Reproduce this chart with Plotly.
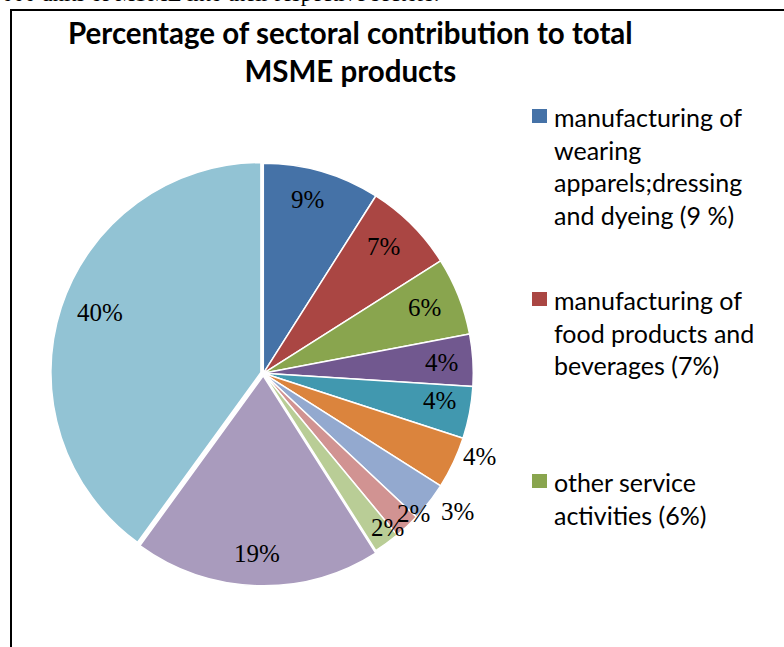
import math
import plotly.graph_objects as go

# ---------------- data ----------------
sectors = [
    "manufacturing of wearing apparels;dressing and dyeing (9 %)",
    "manufacturing of food products and beverages (7%)",
    "other service activities (6%)",
    "sector 4", "sector 5", "sector 6", "sector 7",
    "sector 8", "sector 9", "sector 10", "sector 11",
]
shares = [9, 7, 6, 4, 4, 4, 3, 2, 2, 19, 40]
slice_colors = ["#4572A7", "#AA4643", "#89A54E", "#71588F", "#4198AF", "#DB843D",
                "#93A9CF", "#D19392", "#B9CD96", "#A99BBD", "#92C3D4"]
legend_labels = [
    "manufacturing of<br>wearing<br>apparels;dressing<br>and dyeing (9 %)",
    "manufacturing of<br>food products and<br>beverages (7%)",
    "other service<br>activities (6%)",
]
title_text = "Percentage of sectoral contribution to total<br>MSME products"
page_text = "000 units of MSME into their respective sectors."

# ---------------- style ----------------
pulls = [0, 0, 0, 0, 0, 0, 0, 0, 0, 0.012, 0.012]
# label placement (fraction of radius, angular nudge in degrees)
label_radius = [0.856, 0.83, 0.832, 0.85, 0.848, 1.103, 1.136, 0.981, 0.943, 0.861, 0.829]
label_nudge = [-2.0, -1.6, -0.7, 0.0, -2.0, -4.2, -2.3, -3.8, -2.9, 0.2, 2.3]

W, H = 784, 647
CX, CY, R = 263.3, 373.3, 210.0
half = R * (1 + max(pulls))

fig = go.Figure(go.Pie(
    labels=sectors, values=shares, sort=False, direction="clockwise", rotation=0,
    pull=pulls, textinfo="none", showlegend=False, hoverinfo="label+percent",
    marker=dict(colors=slice_colors, line=dict(color="white", width=1.5)),
    domain=dict(x=[(CX - half) / W, (CX + half) / W],
                y=[1 - (CY + half) / H, 1 - (CY - half) / H]),
))

annotations = []
total = sum(shares)
cum = 0
for v, rf, nd in zip(shares, label_radius, label_nudge):
    mid = (cum + v / 2) / total * 2 * math.pi + math.radians(nd)
    cum += v
    px = CX + rf * R * math.sin(mid)
    py = CY - rf * R * math.cos(mid)
    annotations.append(dict(
        x=px / W, y=1 - py / H, xref="paper", yref="paper",
        text=f"{v}%", showarrow=False, xanchor="center", yanchor="middle",
        font=dict(family="Liberation Serif", size=25, color="black"),
    ))

# title
annotations.append(dict(
    x=350 / W, y=1 - 12.5 / H, xref="paper", yref="paper", text=f"<b>{title_text}</b>",
    showarrow=False, xanchor="center", yanchor="top",
    font=dict(family="Lato", size=29.5, color="black"),
))

# cut-off page text above the chart box
annotations.append(dict(
    x=0, y=1 + 6 / H, xref="paper", yref="paper", text=page_text,
    showarrow=False, xanchor="left", yanchor="middle",
    font=dict(family="Liberation Serif", size=22.5, color="black"),
))

# manual legend (first three entries visible)
shapes = []
entry_top = [100, 283, 465]
for i, lab in enumerate(legend_labels):
    t = entry_top[i]
    shapes.append(dict(type="rect", xref="paper", yref="paper",
                       x0=532 / W, x1=547 / W, y0=1 - (t + 9) / H, y1=1 - (t + 23) / H,
                       fillcolor=slice_colors[i], line=dict(width=0)))
    annotations.append(dict(
        x=552 / W, y=1 - t / H, xref="paper", yref="paper", text=lab,
        showarrow=False, xanchor="left", yanchor="top", align="left",
        font=dict(family="Lato", size=25, color="black"),
    ))

# chart border box
shapes.append(dict(type="rect", xref="paper", yref="paper",
                   x0=11 / W, x1=1.05, y0=-0.05, y1=1 - 10 / H,
                   line=dict(color="black", width=2), fillcolor="rgba(0,0,0,0)"))

fig.update_layout(
    width=W, height=H, margin=dict(l=0, r=0, t=0, b=0, pad=0),
    paper_bgcolor="white", plot_bgcolor="white",
    annotations=annotations, shapes=shapes, showlegend=False,
)

fig.write_html("out.html")
